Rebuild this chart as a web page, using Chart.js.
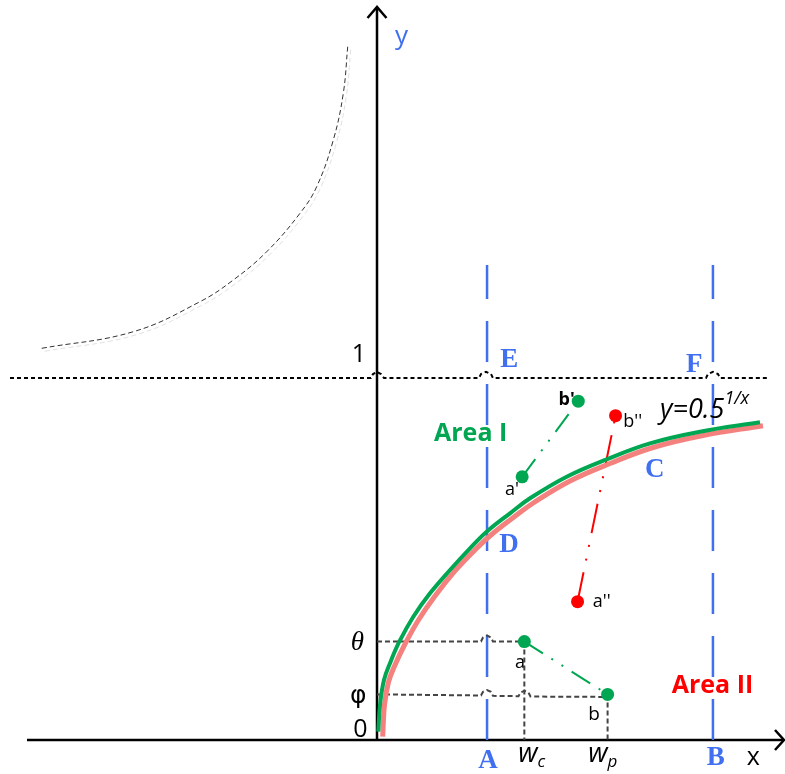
<!DOCTYPE html>
<html>
<head>
<meta charset="utf-8">
<script src="https://cdn.jsdelivr.net/npm/chart.js@4"></script>
<style>
  html, body { margin: 0; padding: 0; background: #fff; }
</style>
</head>
<body>
<canvas id="diagram" width="785" height="774"></canvas>
<script>
// values; unit = the "1" dotted line on the y axis

// green curve y = 0.5^(1/x)
const greenCurve = [
  [0.0036, 0.0229], [0.0083, 0.0967], [0.0193, 0.1657], [0.0373, 0.2155],
  [0.0616, 0.2715], [0.1003, 0.3406], [0.1464, 0.4052], [0.2017, 0.4696],
  [0.2569, 0.5296], [0.3030, 0.5754], [0.3674, 0.6262], [0.4227, 0.6677],
  [0.5240, 0.7273], [0.6345, 0.7754], [0.7541, 0.8196], [0.8923, 0.8517],
  [1.0580, 0.8776]
];
// pink companion curve, just under the green one
const pinkCurve = [
  [0.0157, 0.0092], [0.0207, 0.0967], [0.0318, 0.1602], [0.0497, 0.2072],
  [0.0760, 0.2624], [0.1146, 0.3315], [0.1602, 0.3978], [0.2155, 0.4669],
  [0.2707, 0.5249], [0.3149, 0.5663], [0.3785, 0.6160], [0.4337, 0.6561],
  [0.5331, 0.7155], [0.6436, 0.7638], [0.7624, 0.8080], [0.9006, 0.8412],
  [1.0663, 0.8682]
];
// dashed arc, upper left
const quarterArc = [
  [-0.9262, 1.0820], [-0.6732, 1.1279], [-0.4890, 1.2108], [-0.3970, 1.2707],
  [-0.3047, 1.3489], [-0.2127, 1.4550], [-0.1666, 1.5285], [-0.1207, 1.6575],
  [-0.0931, 1.7865], [-0.0809, 1.9152]
];
// y = 1 dotted line, with hops over y axis, A and B
const lineOne = [
  [-1.0138, 1], [-0.0166, 1], [-0.011, 1.011], [0, 1.017], [0.011, 1.011], [0.0193, 1],
  [0.2818, 1], [0.2873, 1.011], [0.3011, 1.017], [0.3149, 1.011], [0.3204, 1],
  [0.9088, 1], [0.9144, 1.011], [0.9282, 1.017], [0.9420, 1.011], [0.9475, 1],
  [1.0809, 1]
];
// theta and phi levels
const thetaLine = [
  [0, 0.272], [0.2873, 0.272], [0.2928, 0.283], [0.3039, 0.289], [0.3149, 0.283],
  [0.3204, 0.272], [0.407, 0.272]
];
const phiLine = [
  [0, 0.126], [0.2873, 0.123], [0.2928, 0.133], [0.3039, 0.138], [0.3149, 0.133],
  [0.3204, 0.122], [0.3909, 0.121], [0.3964, 0.131], [0.4075, 0.136], [0.4185, 0.131],
  [0.4240, 0.120], [0.637, 0.119]
];
const xA = 0.304, xB = 0.928, guideTop = 1.312;
const xWc = 0.407, xWp = 0.637;
// points
const ptA = [0.407, 0.272], ptB = [0.637, 0.126];
const ptA1 = [0.401, 0.727], ptB1 = [0.556, 0.936];
const ptA2 = [0.554, 0.382], ptB2 = [0.659, 0.896];

// axes
const xAxisLine = [[-0.9669, 0], [1.1243, 0]];
const yAxisLine = [[0, 0], [0, 2.0249]];
const yArrow = [[-0.0262, 1.9945], [0, 2.0249], [0.0262, 1.9945]];
const xArrow = [[1.0994, 0.0276], [1.1243, 0], [1.0994, -0.0276]];

const GREEN = '#00a651';
const PINK = '#f4817e';
const BLUE = '#4070f0';
const RED = '#ff0000';
const SANS = '"Open Sans", sans-serif';
const SERIF = '"Liberation Serif", serif';

const pts = arr => arr.map(([x, y]) => ({ x, y }));

function line(data, color, width, dash, order, extra) {
  return Object.assign({
    data: pts(data),
    showLine: true,
    borderColor: color,
    borderWidth: width,
    borderDash: dash || [],
    pointRadius: 0,
    tension: 0,
    fill: false,
    clip: false,
    order: order
  }, extra || {});
}

function dots(data, color) {
  return {
    data: pts(data),
    showLine: false,
    pointRadius: 6.5,
    pointBackgroundColor: color,
    pointBorderWidth: 0,
    clip: false,
    order: 0
  };
}

const labels = [
  { text: 'y', x: 0.0497, y: 1.9227, font: `26px ${SANS}`, color: BLUE },
  { text: '1', x: -0.0304, y: 1.0442, font: `25px ${SANS}`, align: 'right' },
  { text: 'E', x: 0.3403, y: 1.0312, font: `bold 27px ${SERIF}`, color: BLUE },
  { text: 'F', x: 0.8536, y: 1.0174, font: `bold 27px ${SERIF}`, color: BLUE },
  { text: 'y=0.5', x: 0.7818, y: 0.8887, font: `italic 27px ${SANS}`,
    sub: { text: '1/x', font: `italic 18px ${SANS}`, dy: -14 } },
  { text: 'Area I', x: 0.1575, y: 0.8268, font: `bold 25px ${SANS}`, color: GREEN },
  { text: 'C', x: 0.7403, y: 0.7273, font: `bold 27px ${SERIF}`, color: BLUE },
  { text: 'D', x: 0.3378, y: 0.5202, font: `bold 27px ${SERIF}`, color: BLUE },
  { text: "a'", x: 0.3536, y: 0.6768, font: `18px ${SANS}` },
  { text: "b'", x: 0.5014, y: 0.9254, font: `bold 18px ${SANS}` },
  { text: "b''", x: 0.6804, y: 0.8655, font: `18px ${SANS}` },
  { text: "a''", x: 0.5959, y: 0.3682, font: `18px ${SANS}` },
  { text: 'θ', x: -0.0727, y: 0.2486, font: `italic 27px ${SERIF}` },
  { text: 'φ', x: -0.0746, y: 0.1022, font: `25px "DejaVu Sans", sans-serif` },
  { text: '0', x: -0.0655, y: 0.0091, font: `25px ${SANS}` },
  { text: 'a', x: 0.3812, y: 0.1981, font: `18px ${SANS}` },
  { text: 'b', x: 0.5837, y: 0.0552, font: `19px ${SANS}` },
  { text: 'Area II', x: 0.8141, y: 0.1290, font: `bold 25px ${SANS}`, color: RED },
  { text: 'A', x: 0.2798, y: -0.0782, font: `bold 27px ${SERIF}`, color: BLUE },
  { text: 'w', x: 0.3903, y: -0.0599, font: `italic 27px ${SANS}`,
    sub: { text: 'c', font: `italic 17px ${SANS}`, dy: 5 } },
  { text: 'w', x: 0.5837, y: -0.0599, font: `italic 27px ${SANS}`,
    sub: { text: 'p', font: `italic 17px ${SANS}`, dy: 5 } },
  { text: 'B', x: 0.9108, y: -0.0691, font: `bold 27px ${SERIF}`, color: BLUE },
  { text: 'x', x: 1.0213, y: -0.0691, font: `25px ${SANS}` }
];

const labelPlugin = {
  id: 'labels',
  afterDatasetsDraw(chart) {
    const { ctx, scales: { x, y } } = chart;
    ctx.save();
    ctx.textBaseline = 'alphabetic';
    labels.forEach(l => {
      const px = x.getPixelForValue(l.x);
      const py = y.getPixelForValue(l.y);
      ctx.fillStyle = l.color || '#000';
      ctx.textAlign = l.align || 'left';
      ctx.font = l.font;
      ctx.fillText(l.text, px, py);
      if (l.sub) {
        const w = ctx.measureText(l.text).width;
        ctx.font = l.sub.font;
        ctx.textAlign = 'left';
        ctx.fillText(l.sub.text, px + w, py + l.sub.dy);
      }
    });
    ctx.restore();
  }
};

// light grey echo next to the dashed arc
const shadowPlugin = {
  id: 'arcShadow',
  beforeDatasetDraw(chart, args) {
    if (!chart.data.datasets[args.index].shadow) return;
    const ctx = chart.ctx;
    ctx.save();
    ctx.shadowColor = 'rgba(0,0,0,0.12)';
    ctx.shadowOffsetX = 3;
    ctx.shadowOffsetY = 3;
    ctx.shadowBlur = 0;
  },
  afterDatasetDraw(chart, args) {
    if (chart.data.datasets[args.index].shadow) chart.ctx.restore();
  }
};

new Chart(document.getElementById('diagram'), {
  type: 'scatter',
  data: {
    datasets: [
      dots([ptA, ptB, ptA1, ptB1], GREEN),
      dots([ptA2, ptB2], RED),
      line(greenCurve, GREEN, 4, [], 1, { tension: 0.4 }),
      line(pinkCurve, PINK, 5, [], 2, { tension: 0.4 }),
      line([ptA, ptB], GREEN, 2, [22, 10, 2, 10, 2, 10], 3),
      line([ptA1, ptB1], GREEN, 2, [22, 10, 2, 10, 2, 10], 3),
      line([ptA2, ptB2], RED, 2, [30, 12, 2, 12, 2, 12], 3),
      line(thetaLine, '#444', 2, [5, 3], 4),
      line(phiLine, '#444', 2, [5, 3], 4),
      line([[xWc, ptA[1]], [xWc, 0]], '#444', 2, [5, 3], 4),
      line([[xWp, ptB[1]], [xWp, 0]], '#444', 2, [5, 3], 4),
      line([[xA, 0], [xA, guideTop]], BLUE, 2.5, [41, 22], 5),
      line([[xB, 0], [xB, guideTop]], BLUE, 2.5, [41, 22], 5),
      line(lineOne, '#000', 2, [4, 3], 6),
      line(quarterArc, '#333', 1, [5, 3], 6, { tension: 0.4, shadow: true }),
      line(xAxisLine, '#000', 2.5, [], 7),
      line(yAxisLine, '#000', 2.5, [], 7),
      line(yArrow, '#000', 2.5, [], 7),
      line(xArrow, '#000', 2.5, [], 7)
    ]
  },
  options: {
    responsive: false,
    animation: false,
    devicePixelRatio: 1,
    layout: { padding: 0, autoPadding: false },
    plugins: { legend: { display: false }, tooltip: { enabled: false } },
    scales: {
      x: { type: 'linear', display: false, min: -377 / 362, max: 408 / 362 },
      y: { type: 'linear', display: false, min: -34 / 362, max: 740 / 362 }
    }
  },
  plugins: [shadowPlugin, labelPlugin]
});
</script>
</body>
</html>
